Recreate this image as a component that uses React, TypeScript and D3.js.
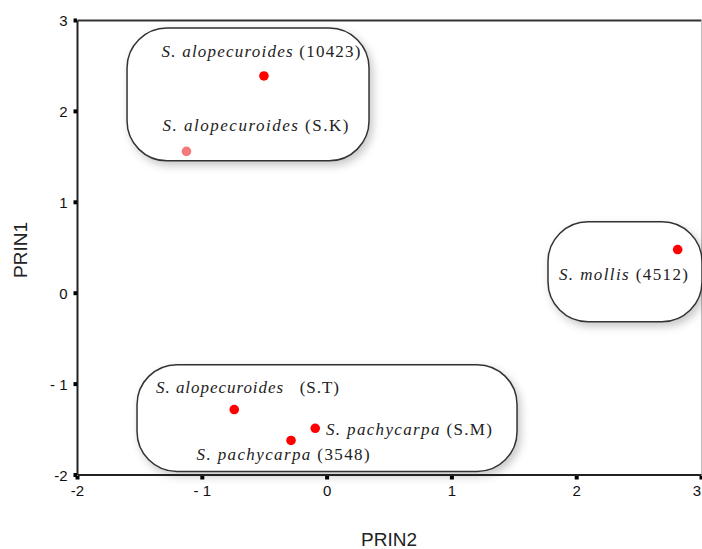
import React from "react";
import * as d3 from "d3";

const W = 702;
const H = 549;

const xTicks = [-2, -1, 0, 1, 2, 3];
const xTickLabels = ["-2", "- 1", "0", "1", "2", "3"];
const yTicks = [-2, -1, 0, 1, 2, 3];
const yTickLabels = ["-2", "- 1", "0", "1", "2", "3"];

const species = ["S. alopecuroides", "S. alopecuroides", "S. alopecuroides", "S. pachycarpa", "S. pachycarpa", "S. mollis"];
const accessions = ["(10423)", "(S.K)", "(S.T)", "(S.M)", "(3548)", "(4512)"];
const prin2 = [-0.506, -1.127, -0.744, -0.095, -0.289, 2.809];
const prin1 = [2.39, 1.56, -1.28, -1.486, -1.62, 0.48];
const pointColors = ["#ff0000", "#f47a7a", "#ff0000", "#ff0000", "#ff0000", "#ff0000"];
const labelX = [-1.327, -1.319, -1.371, -0.009, -1.046, 1.858];
const labelY = [2.599, 1.78, -1.093, -1.555, -1.83, 0.148];
const labelGap = [" ", " ", "   ", " ", " ", " "];
const labelWidth = [199, 186, 183, 166, 173, 129];

// group boxes in data units: [x0, x1, y0, y1]
const boxX0 = [-1.603, -1.523, 1.77];
const boxX1 = [0.336, 1.522, 3.004];
const boxY0 = [2.918, -0.786, 0.786];
const boxY1 = [1.456, -1.962, -0.313];

export default function App() {
  const x = d3.scaleLinear().domain([-2, 3]).range([77.5, 701.5]);
  const y = d3.scaleLinear().domain([-2, 3]).range([475, 20.5]);

  return (
    <svg width={W} height={H} style={{ position: "absolute", left: 0, top: 0, background: "#fff" }}>
      <defs>
        <filter id="sh" x="-20%" y="-20%" width="140%" height="150%">
          <feDropShadow dx="3" dy="4" stdDeviation="4" floodColor="#000" floodOpacity="0.22" />
        </filter>
      </defs>
      <rect x={0} y={0} width={W} height={H} fill="#fff" />
      {/* frame */}
      <line x1={x(-2)} x2={x(3)} y1={y(3)} y2={y(3)} stroke="#333" strokeWidth={2} />
      <line x1={x(3)} x2={x(3)} y1={y(3)} y2={y(-2)} stroke="#bbb" strokeWidth={1} />
      {/* boxes */}
      {boxX0.map((b, i) => (
        <rect
          key={"box" + i}
          x={x(b)}
          y={y(boxY0[i])}
          width={x(boxX1[i]) - x(b)}
          height={y(boxY1[i]) - y(boxY0[i])}
          rx={40}
          ry={40}
          fill="#fff"
          stroke="#333"
          strokeWidth={1.5}
          filter="url(#sh)"
        />
      ))}
      {/* axes */}
      <line x1={x(-2)} x2={x(-2)} y1={y(3)} y2={y(-2)} stroke="#222" strokeWidth={2} />
      <line x1={x(-2)} x2={x(3)} y1={y(-2)} y2={y(-2)} stroke="#222" strokeWidth={2} />
      {yTicks.map((t, i) => (
        <g key={"yt" + i}>
          <rect x={x(-2) - 4} y={y(t) - 2} width={3.5} height={4} fill="#000" />
          <text
            x={x(-2) - 10}
            y={y(t)}
            textAnchor="end"
            dominantBaseline="central"
            fontFamily="Arial, 'Liberation Sans', sans-serif"
            fontSize={15}
            fill="#111"
          >
            {yTickLabels[i]}
          </text>
        </g>
      ))}
      {xTicks.map((t, i) => (
        <g key={"xt" + i}>
          <rect x={x(t) - 2} y={y(-2) + 1} width={4} height={3.5} fill="#000" />
          <text
            x={Math.min(x(t), 697)}
            y={y(-2) + 21}
            textAnchor="middle"
            fontFamily="Arial, 'Liberation Sans', sans-serif"
            fontSize={15}
            fill="#111"
          >
            {xTickLabels[i]}
          </text>
        </g>
      ))}
      <text
        x={389}
        y={546}
        textAnchor="middle"
        fontFamily="Arial, 'Liberation Sans', sans-serif"
        fontSize={19}
        fill="#222"
      >
        PRIN2
      </text>
      <text
        transform={`translate(27,250) rotate(-90)`}
        textAnchor="middle"
        fontFamily="Arial, 'Liberation Sans', sans-serif"
        fontSize={19}
        fill="#222"
      >
        PRIN1
      </text>
      {/* points */}
      {prin2.map((v, i) => (
        <circle key={"p" + i} cx={x(v)} cy={y(prin1[i])} r={4.8} fill={pointColors[i]} />
      ))}
      {/* labels */}
      {species.map((s, i) => (
        <text
          key={"l" + i}
          x={x(labelX[i])}
          y={y(labelY[i])}
          fontFamily="'Liberation Serif', 'Times New Roman', serif"
          fontSize={17}
          fill="#222"
          textLength={labelWidth[i]}
          lengthAdjust="spacing"
          style={{ whiteSpace: "pre" }}
        >
          <tspan fontStyle="italic">{s}</tspan>
          <tspan>{labelGap[i] + accessions[i]}</tspan>
        </text>
      ))}
    </svg>
  );
}
